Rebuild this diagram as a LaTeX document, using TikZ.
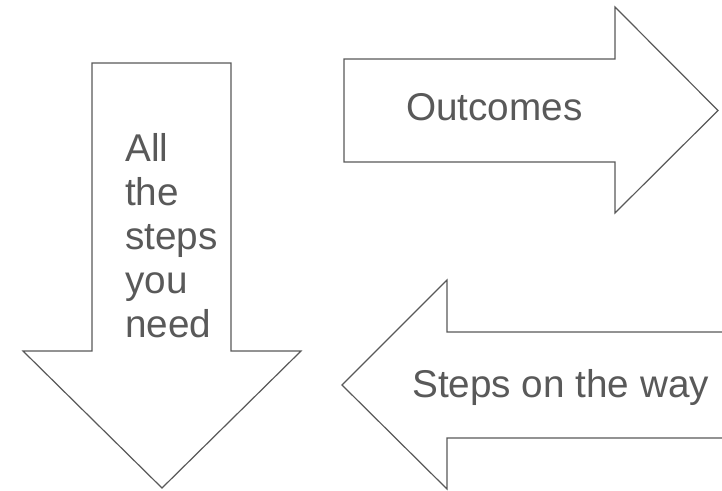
\documentclass[tikz,border=0pt]{standalone}
\usepackage{fontspec}
\setmainfont{Liberation Sans}
\definecolor{ln}{HTML}{595959}
\begin{document}
\begin{tikzpicture}[x=1pt,y=-1pt,
  arrowshape/.style={draw=ln,line width=1.2pt,fill=white,line join=miter},
  lbl/.style={text=ln,inner sep=0pt,font=\fontsize{38.7}{44}\selectfont}]
\useasboundingbox (0,0) rectangle (722,490);
\clip (0,0) rectangle (722,490);
% down arrow
\draw[arrowshape] (92,63) -- (231,63) -- (231,351) -- (301,351) -- (162,488)
  -- (23,351) -- (92,351) -- cycle;
% right arrow
\draw[arrowshape] (344,59) -- (615,59) -- (615,7) -- (718,110.5) -- (615,213)
  -- (615,162) -- (344,162) -- cycle;
% left arrow (clipped at right edge)
\draw[arrowshape] (740,332) -- (447,332) -- (447,280) -- (342,385) -- (447,489)
  -- (447,438) -- (740,438);
% labels
\node[lbl,anchor=base west] (need) at (125,161)
  {\begin{tabular}[t]{@{}l@{}}All\\the\\steps\\you\\need\end{tabular}};
\node[lbl,anchor=base west] (out) at (406,120) {Outcomes};
\node[lbl,anchor=base west] (way) at (412,397) {Steps on the way};
\end{tikzpicture}
\end{document}
